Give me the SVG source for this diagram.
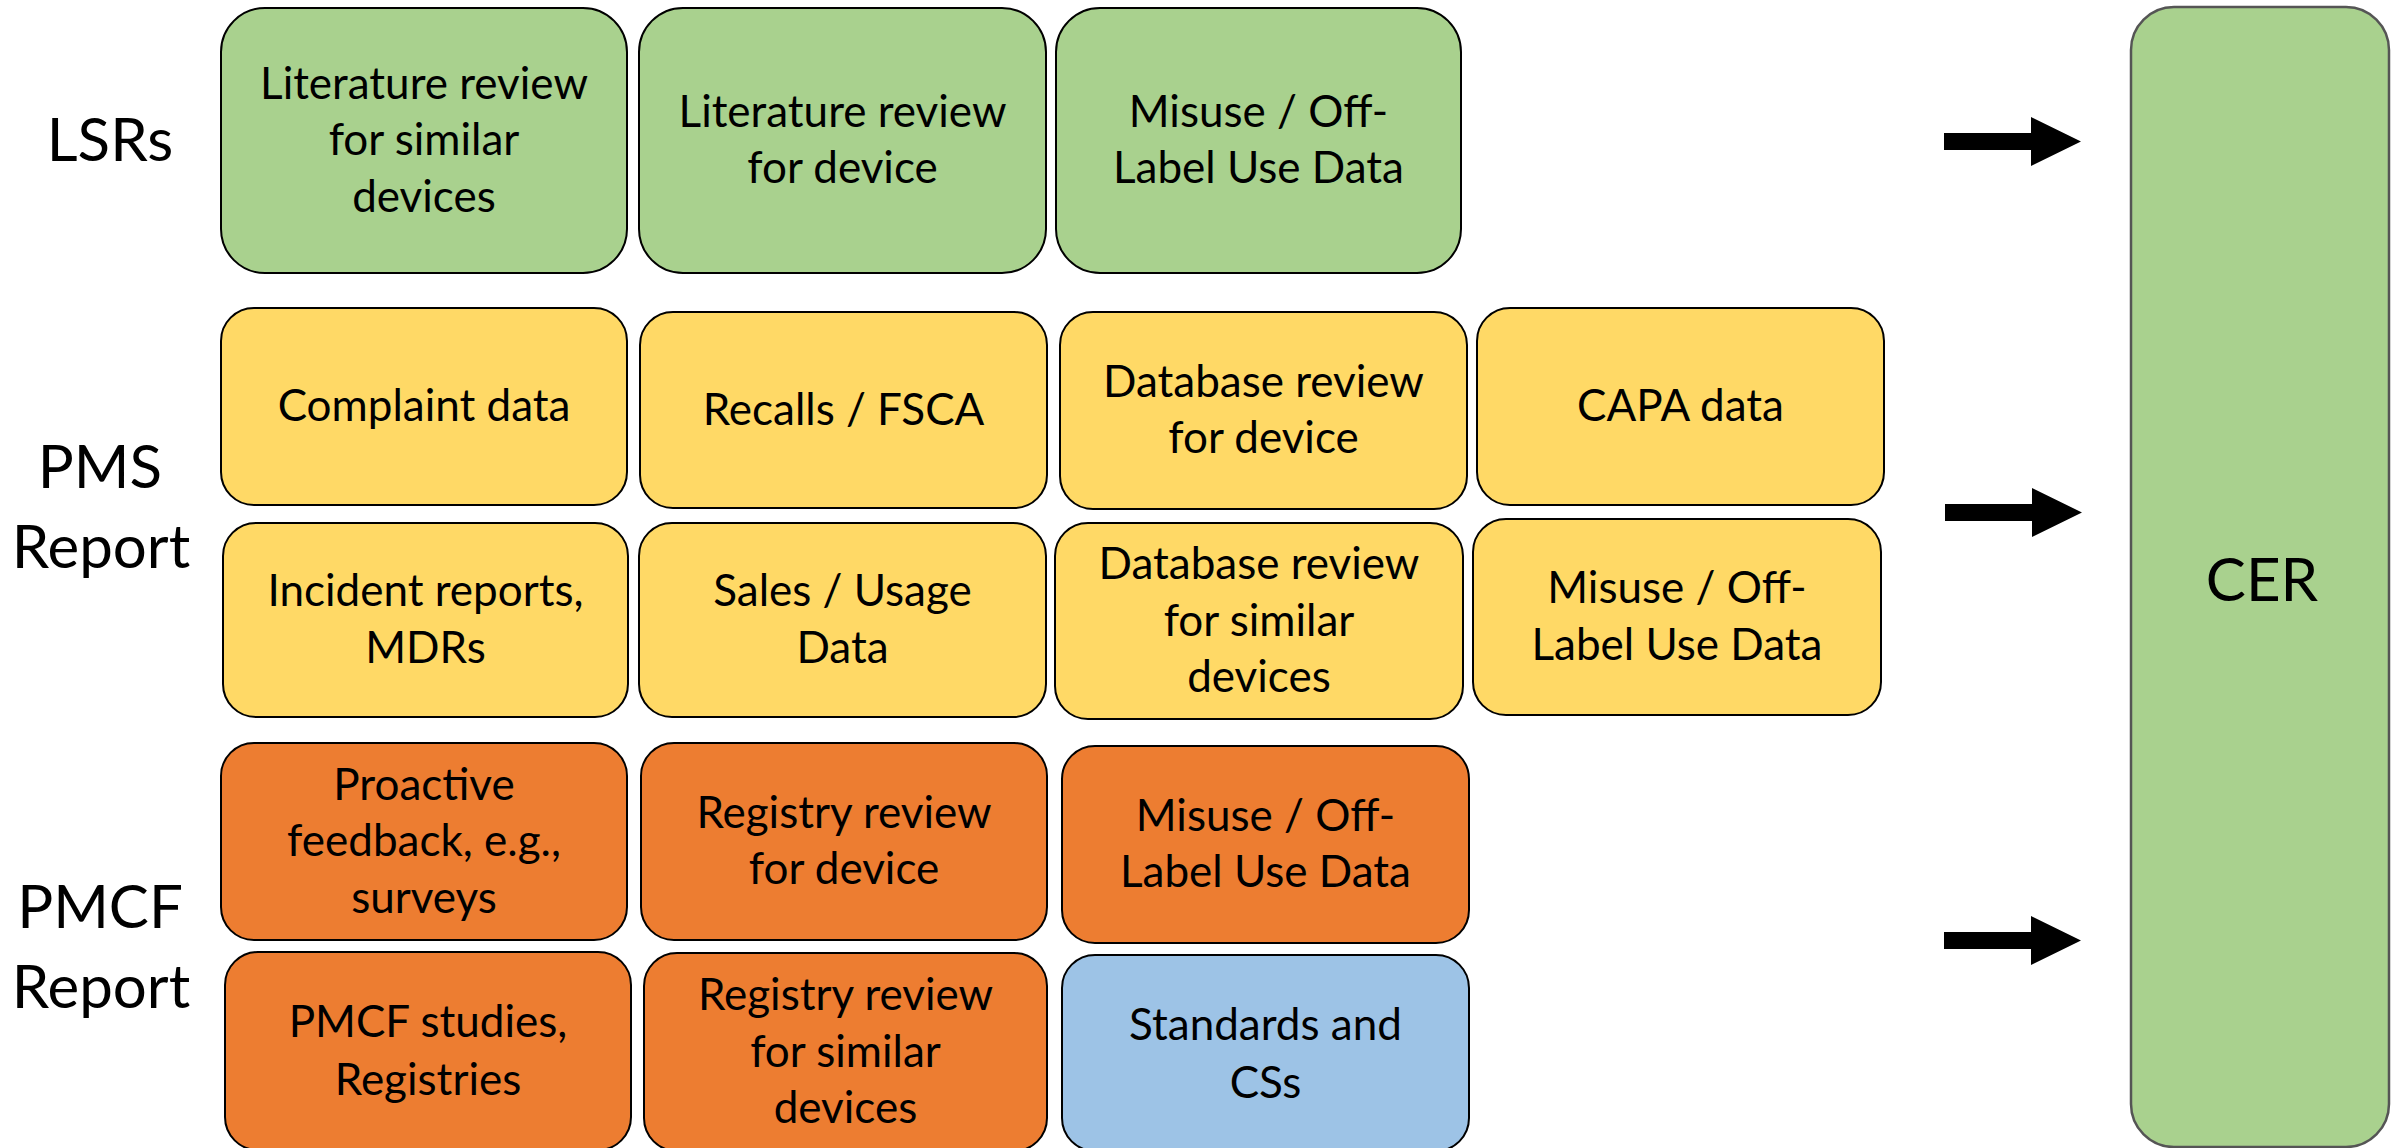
<svg xmlns="http://www.w3.org/2000/svg" width="2392" height="1148" viewBox="0 0 2392 1148">
<style>
.box{stroke:#000;stroke-width:2}
.g{fill:#A9D18E}
.y{fill:#FFD966}
.o{fill:#ED7D31}
.b{fill:#9DC3E6}
.t{font-family:Lato,"Open Sans",sans-serif;font-size:44px;text-anchor:middle;fill:#000}
.lbl{font-family:Lato,"Open Sans",sans-serif;font-size:60px;text-anchor:middle;fill:#000}
.arr{fill:#000}
</style>
<rect width="2392" height="1148" fill="#fff"/>
<g id="labels">
<text class="lbl" x="110" y="161">LSRs</text>
<text class="lbl" x="100" y="488">PMS</text>
<text class="lbl" x="101" y="568">Report</text>
<text class="lbl" x="100" y="928">PMCF</text>
<text class="lbl" x="101" y="1008">Report</text>
</g>
<g id="lit-similar"><rect class="box g" x="221" y="8" width="406" height="265" rx="44"/>
<text class="t" x="424" y="98.5">Literature review</text><text class="t" x="424" y="155">for similar</text><text class="t" x="424" y="211.5">devices</text></g>
<g id="lit-device"><rect class="box g" x="639" y="8" width="407" height="265" rx="44"/>
<text class="t" x="842.5" y="126.75">Literature review</text><text class="t" x="842.5" y="183.25">for device</text></g>
<g id="lsr-misuse"><rect class="box g" x="1056" y="8" width="405" height="265" rx="44"/>
<text class="t" x="1258.5" y="126.75">Misuse / Off-</text><text class="t" x="1258.5" y="183.25">Label Use Data</text></g>
<g id="complaint"><rect class="box y" x="221" y="308" width="406" height="197" rx="33"/>
<text class="t" x="424" y="421">Complaint data</text></g>
<g id="recalls"><rect class="box y" x="640" y="312" width="407" height="196" rx="33"/>
<text class="t" x="843.5" y="424.5">Recalls / FSCA</text></g>
<g id="db-device"><rect class="box y" x="1060" y="312" width="407" height="197" rx="33"/>
<text class="t" x="1263.5" y="396.75">Database review</text><text class="t" x="1263.5" y="453.25">for device</text></g>
<g id="capa"><rect class="box y" x="1477" y="308" width="407" height="197" rx="33"/>
<text class="t" x="1680.5" y="421">CAPA data</text></g>
<g id="incident"><rect class="box y" x="223" y="523" width="405" height="194" rx="33"/>
<text class="t" x="425.5" y="606.25">Incident reports,</text><text class="t" x="425.5" y="662.75">MDRs</text></g>
<g id="sales"><rect class="box y" x="639" y="523" width="407" height="194" rx="33"/>
<text class="t" x="842.5" y="606.25">Sales / Usage</text><text class="t" x="842.5" y="662.75">Data</text></g>
<g id="db-similar"><rect class="box y" x="1055" y="523" width="408" height="196" rx="33"/>
<text class="t" x="1259" y="579">Database review</text><text class="t" x="1259" y="635.5">for similar</text><text class="t" x="1259" y="692">devices</text></g>
<g id="pms-misuse"><rect class="box y" x="1473" y="519" width="408" height="196" rx="33"/>
<text class="t" x="1677" y="603.25">Misuse / Off-</text><text class="t" x="1677" y="659.75">Label Use Data</text></g>
<g id="proactive"><rect class="box o" x="221" y="743" width="406" height="197" rx="33"/>
<text class="t" x="424" y="799.5">Proactive</text><text class="t" x="424" y="856">feedback, e.g.,</text><text class="t" x="424" y="912.5">surveys</text></g>
<g id="registry-device"><rect class="box o" x="641" y="743" width="406" height="197" rx="33"/>
<text class="t" x="844" y="827.75">Registry review</text><text class="t" x="844" y="884.25">for device</text></g>
<g id="pmcf-misuse"><rect class="box o" x="1062" y="746" width="407" height="197" rx="33"/>
<text class="t" x="1265.5" y="830.75">Misuse / Off-</text><text class="t" x="1265.5" y="887.25">Label Use Data</text></g>
<g id="pmcf-studies"><rect class="box o" x="225" y="952" width="406" height="198" rx="33"/>
<text class="t" x="428" y="1037">PMCF studies,</text><text class="t" x="428" y="1095">Registries</text></g>
<g id="registry-similar"><rect class="box o" x="644" y="953" width="403" height="198" rx="33"/>
<text class="t" x="845.5" y="1010">Registry review</text><text class="t" x="845.5" y="1067">for similar</text><text class="t" x="845.5" y="1123">devices</text></g>
<g id="standards"><rect class="box b" x="1062" y="955" width="407" height="196" rx="33"/>
<text class="t" x="1265.5" y="1040">Standards and</text><text class="t" x="1265.5" y="1098">CSs</text></g>
<g id="cer"><rect x="2131" y="7" width="258" height="1140" rx="43" fill="#A9D18E" stroke="#555" stroke-width="2.5"/>
<text class="lbl" x="2262" y="601">CER</text></g>
<g id="connectors">
<path class="arr" d="M1944 133H2031V117L2081 141.5L2031 166V150H1944Z"/>
<path class="arr" d="M1945 504H2032V488L2082 512.5L2032 537V521H1945Z"/>
<path class="arr" d="M1944 932H2031V916L2081 940.5L2031 965V949H1944Z"/>
</g>
</svg>
